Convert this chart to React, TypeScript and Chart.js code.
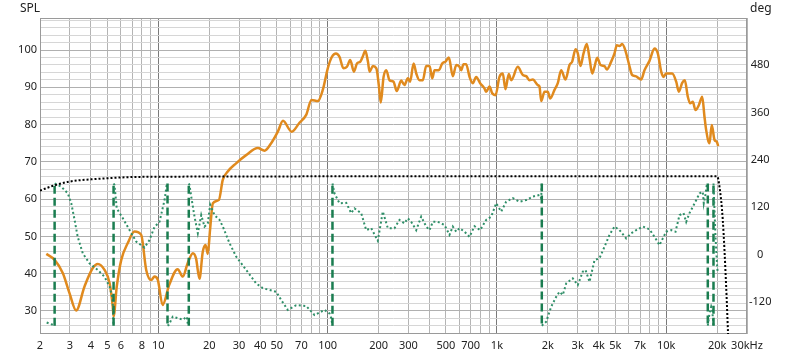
import React, { useEffect, useRef } from 'react';
import { Chart, registerables } from 'chart.js';

Chart.register(...registerables);

// ---------- data ----------
const splFreq = [
  2.18, 2.44, 2.73, 2.99, 3.27, 3.66, 4.10, 4.39, 4.81, 5.15,
  5.38, 5.44, 5.68, 6.04, 6.60, 7.23, 7.92, 8.48, 9.08, 9.49,
  9.93, 10.6, 11.6, 13.0, 13.95, 14.9, 16.0, 16.7, 17.5, 18.3,
  19.0, 19.6, 20.2, 21.0, 22.8, 24.0, 25.7, 28.8, 33.0, 38.7,
  42.4, 46.4, 50.8, 54.5, 61.3, 68.2, 74.7, 80.3, 87.5, 93.6,
  100.2, 106, 112, 117.5, 124, 130, 136, 143, 149, 156,
  161, 167, 173, 177, 185, 194, 201, 206, 214, 222,
  232, 245, 256, 272, 284, 298, 307, 322, 334, 349,
  365, 382, 400, 415, 428, 454, 475, 497, 520, 549,
  575, 601, 615, 635, 658, 689, 720, 754, 796, 844,
  864, 904, 938, 981, 1035, 1083, 1123, 1175, 1214, 1328,
  1422, 1489, 1557, 1629, 1743, 1784, 1826, 1910, 1997, 2064,
  2188, 2288, 2396, 2541, 2684, 2784, 2911, 3004, 3117, 3247,
  3395, 3522, 3654, 3770, 3911, 4090, 4320, 4457, 4731, 4948,
  5105, 5296, 5496, 5745, 6011, 6295, 6584, 7114, 7440, 7965,
  8527, 8918, 9340, 9636, 9994, 10849, 11452, 11866, 12428, 12874,
  13411, 13855, 14354, 14890, 15574, 16311, 16827, 17219, 18010, 18580,
  19281, 19890, 20280,
];
const splValues = [
  45.3, 43.7, 40.1, 34.7, 30.1, 36.5, 41.5, 42.6, 41.0, 37.5,
  31.2, 28.5, 36.5, 43.7, 48.2, 51.3, 50.4, 41.0, 38.3, 39.2,
  38.3, 31.6, 37.0, 41.2, 39.2, 42.8, 45.5, 44.1, 38.6, 45.9,
  47.7, 45.3, 51.7, 58.9, 59.8, 65.1, 67.4, 69.6, 71.8, 73.7,
  73.0, 75.0, 78.1, 81.0, 78.1, 80.5, 82.6, 86.6, 86.3, 89.3,
  95.1, 98.2, 99.1, 98.2, 95.1, 95.5, 97.3, 94.2, 96.4, 96.9,
  98.2, 99.8, 96.9, 94.2, 95.7, 95.1, 90.2, 85.9, 92.8, 94.6,
  91.9, 91.5, 89.0, 91.8, 90.6, 92.4, 91.5, 96.4, 93.7, 91.9,
  91.9, 95.7, 95.7, 92.4, 94.6, 94.6, 96.4, 96.9, 98.0, 93.0,
  96.0, 95.5, 94.6, 96.2, 96.2, 92.8, 91.1, 92.8, 91.1, 89.7,
  88.8, 90.2, 88.4, 87.9, 92.8, 93.7, 89.5, 93.6, 91.9, 95.5,
  93.3, 93.0, 91.9, 92.1, 90.6, 90.2, 86.3, 88.8, 88.8, 87.0,
  89.3, 91.1, 94.6, 92.1, 96.0, 96.9, 100.2, 99.1, 95.7, 99.1,
  101.6, 97.8, 93.7, 95.5, 97.9, 96.0, 95.7, 94.8, 96.9, 99.1,
  101.3, 101.1, 101.6, 99.8, 96.4, 93.3, 93.0, 92.1, 94.6, 97.1,
  100.4, 99.1, 94.2, 92.8, 93.7, 93.7, 91.5, 88.8, 91.2, 91.9,
  87.5, 85.7, 86.1, 83.9, 85.2, 87.5, 82.1, 78.5, 75.0, 79.9,
  75.9, 75.4, 74.2,
];

const phaseFreq = [
  2.19, 2.36, 2.44, 2.44, 2.67, 2.92, 3.06, 3.20, 3.34, 3.58,
  3.92, 4.39, 4.81, 5.15, 5.34, 5.38, 5.44, 5.44, 5.51, 5.68,
  6.17, 6.76, 7.40, 8.28, 8.87, 9.49, 10.16, 10.88, 11.2, 11.33,
  11.33, 11.53, 12.17, 13.03, 13.95, 14.73, 14.93, 15.13, 15.13, 15.28,
  15.64, 16.36, 17.11, 17.92, 18.74, 19.59, 20.24, 21.46, 22.98, 24.04,
  26.33, 28.83, 33.04, 37.84, 41.4, 49.69, 53.19, 58.18, 65.24, 74.72,
  83.63, 95.85, 102.6, 105, 106.8, 106.8, 109.8, 117.5, 128.8, 137.8,
  144.1, 157.8, 169, 180.8, 197.8, 211.8, 226.7, 248.3, 265.8, 284.4,
  297.5, 311.6, 333.6, 357, 382.2, 399.7, 418.1, 447.5, 490.2, 524.7,
  548.7, 574.7, 601.1, 643.4, 688.8, 737.2, 796.4, 864.2, 925, 989.9,
  1060, 1134, 1241, 1359, 1489, 1629, 1784, 1826, 1841, 1841,
  1954, 2092, 2239, 2342, 2449, 2566, 2806, 3004, 3215, 3336,
  3523, 3771, 4035, 4320, 4624, 4948, 5297, 5802, 6211, 6649,
  7273, 7965, 8527, 9126, 9546, 9994, 10698, 11344, 11982, 12648,
  13120, 13722, 14354, 15031, 15721, 16440, 16666, 17054, 17361, 17600,
  17600, 18010, 18430, 18686, 18838, 19020, 19020, 19544, 20000, 20162,
];
const phaseValues = [
  -172, -177, -180, 180, 172, 155, 130, 88, 45, 3,
  -22, -39, -56, -81, -107, -123, -180, 180, 176, 117,
  92, 62, 33, 18, 37, 70, 83, 138, 176, 180,
  -180, -178, -157, -161, -165, -157, -176, -180, 180, 176,
  147, 96, 54, 100, 71, 79, 126, 100, 88, 71,
  29, -5, -39, -73, -85, -94, -115, -140, -128, -130,
  -153, -140, -149, -161, -180, 180, 155, 130, 131, 105,
  117, 105, 62, 67, 35, 109, 67, 67, 88, 79,
  92, 83, 62, 96, 71, 62, 83, 83, 75, 50,
  71, 58, 67, 58, 45, 72, 62, 88, 96, 130,
  109, 134, 143, 134, 138, 147, 151, 143, 180, -180,
  -170, -132, -107, -94, -102, -73, -60, -77, -43, -39,
  -69, -14, -9, 20, 50, 71, 62, 41, 54, 62,
  71, 64, 45, 24, 41, 58, 62, 58, 100, 105,
  83, 105, 121, 138, 155, 159, 130, 153, 176, 180,
  -180, -149, -132, -140, -157, -180, 180, 45, -31, -47,
];

const refFreq = [2.0, 2.44, 2.99, 4.30, 6.76, 10.6, 100, 1000, 10000, 20000, 20634, 21580, 22600, 23200];
const refValues = [62.3, 63.7, 64.7, 65.4, 65.9, 66.0, 66.1, 66.1, 66.1, 66.1, 63.3, 54.4, 36.5, 23.5];

const xGridValues = [
  2, 3, 4, 5, 6, 7, 8, 9,
  10, 20, 30, 40, 50, 60, 70, 80, 90,
  100, 200, 300, 400, 500, 600, 700, 800, 900,
  1000, 2000, 3000, 4000, 5000, 6000, 7000, 8000, 9000,
  10000, 20000, 30000,
];
const xLabelValues = [2, 3, 4, 5, 6, 8, 10, 20, 30, 40, 50, 70, 100, 200, 300, 500, 700, 1000, 2000, 3000, 4000, 5000, 7000, 10000, 20000, 30000];
const xLabelTexts = ['2', '3', '4', '5', '6', '8', '10', '20', '30', '40', '50', '70', '100', '200', '300', '500', '700', '1k', '2k', '3k', '4k', '5k', '7k', '10k', '20k', '30kHz'];
const decadeValues = [10, 100, 1000, 10000];

const splGridValues = [24, 26, 28, 30, 32, 34, 36, 38, 40, 42, 44, 46, 48, 50, 52, 54, 56, 58, 60, 62, 64, 66, 68, 70, 72, 74, 76, 78, 80, 82, 84, 86, 88, 90, 92, 94, 96, 98, 100, 102, 104, 106, 108];
const splLabelValues = [30, 40, 50, 60, 70, 80, 90, 100];
const degTickValues = [-120, 0, 120, 240, 360, 480];

const FONT = "'Noto Sans', 'Open Sans', sans-serif";

const framePlugin = {
  id: 'frame',
  beforeDatasetsDraw(chart: any) {
    const { ctx, chartArea: a } = chart;
    ctx.save();
    ctx.strokeStyle = '#9a9a9a';
    ctx.lineWidth = 1;
    ctx.strokeRect(Math.round(a.left) + 0.5, Math.round(a.top) + 0.5, Math.round(a.right - a.left) - 1, Math.round(a.bottom - a.top) - 1);
    ctx.restore();
  },
  afterDraw(chart: any) {
    const { ctx } = chart;
    ctx.save();
    ctx.fillStyle = '#222';
    ctx.font = `12px ${FONT}`;
    ctx.textBaseline = 'middle';
    ctx.textAlign = 'left';
    ctx.fillText('SPL', 20, 9);
    ctx.fillText('deg', 750, 9);
    ctx.restore();
  },
};

export default function App() {
  const canvasRef = useRef<HTMLCanvasElement>(null);

  useEffect(() => {
    document.body.style.margin = '0';
    const canvas = canvasRef.current;
    if (!canvas) return;

    const splData = splFreq.map((f, i) => ({ x: f, y: splValues[i] }));
    const phaseData = phaseFreq.map((f, i) => ({ x: f, y: phaseValues[i] }));
    const refData = refFreq.map((f, i) => ({ x: f, y: refValues[i] }));

    const isWrap = (c: any) => c.p0.parsed.x === c.p1.parsed.x;

    const chart = new Chart(canvas, {
      type: 'line',
      data: {
        datasets: [
          {
            label: 'ref',
            data: refData,
            yAxisID: 'y',
            borderColor: '#000000',
            borderWidth: 2,
            borderDash: [2, 2],
            pointRadius: 0,
            cubicInterpolationMode: 'monotone',
            fill: false,
          },
          {
            label: 'phase',
            data: phaseData,
            yAxisID: 'y2',
            borderColor: '#2f8f68',
            borderWidth: 2,
            borderDash: [2, 2.5],
            pointRadius: 0,
            tension: 0,
            fill: false,
            segment: {
              borderDash: (c: any) => (isWrap(c) ? [8, 4] : [2, 2.5]),
              borderColor: (c: any) => (isWrap(c) ? '#1a7d50' : '#2f8f68'),
              borderWidth: (c: any) => (isWrap(c) ? 2.5 : 2),
            },
          },
          {
            label: 'SPL',
            data: splData,
            yAxisID: 'y',
            borderColor: '#e08a1e',
            borderWidth: 2.5,
            pointRadius: 0,
            cubicInterpolationMode: 'monotone',
            fill: false,
          },
        ],
      },
      options: {
        responsive: false,
        animation: false,
        devicePixelRatio: 1,
        parsing: true,
        layout: { padding: { top: 18, left: 0, right: 0, bottom: 0 } },
        plugins: { legend: { display: false }, tooltip: { enabled: false } },
        elements: { point: { radius: 0 } },
        scales: {
          x: {
            type: 'logarithmic',
            min: 2,
            max: 30000,
            afterBuildTicks: (s: any) => {
              s.ticks = xGridValues.map((v) => ({ value: v }));
            },
            afterFit: (s: any) => {
              s.height = 25;
            },
            ticks: {
              autoSkip: false,
              maxRotation: 0,
              minRotation: 0,
              padding: 5,
              color: '#222',
              font: { family: FONT, size: 11 },
              callback: (v: any) => {
                const i = xLabelValues.indexOf(Number(v));
                return i >= 0 ? xLabelTexts[i] : '';
              },
            },
            grid: {
              drawTicks: false,
              lineWidth: 1,
              color: (c: any) => (c.tick && decadeValues.includes(c.tick.value) ? '#7a7a7a' : '#b4b4b4'),
            },
            border: { display: false },
          },
          y: {
            type: 'linear',
            position: 'left',
            min: 23.8,
            max: 108.6,
            afterBuildTicks: (s: any) => {
              s.ticks = splGridValues.map((v) => ({ value: v }));
            },
            afterFit: (s: any) => {
              s.width = 40;
            },
            ticks: {
              autoSkip: false,
              padding: 3,
              color: '#222',
              font: { family: FONT, size: 11 },
              callback: (v: any) => (splLabelValues.includes(Number(v)) ? String(v) : ''),
            },
            grid: {
              drawTicks: false,
              lineWidth: 1,
              color: (c: any) => (c.tick && c.tick.value % 10 === 0 ? '#b0b0b0' : '#d6d6d6'),
            },
            border: { display: false },
          },
          y2: {
            type: 'linear',
            position: 'right',
            min: -201,
            max: 599,
            afterBuildTicks: (s: any) => {
              s.ticks = degTickValues.map((v) => ({ value: v }));
            },
            afterFit: (s: any) => {
              s.width = 53;
            },
            ticks: {
              autoSkip: false,
              padding: 2,
              crossAlign: 'center',
              color: '#222',
              font: { family: FONT, size: 11 },
            },
            grid: { display: false, drawTicks: false },
            border: { display: false },
          },
        },
      } as any,
      plugins: [framePlugin],
    });

    return () => chart.destroy();
  }, []);

  return (
    <div style={{ width: 800, height: 359 }}>
      <canvas ref={canvasRef} width={800} height={359} style={{ display: 'block' }} />
    </div>
  );
}
